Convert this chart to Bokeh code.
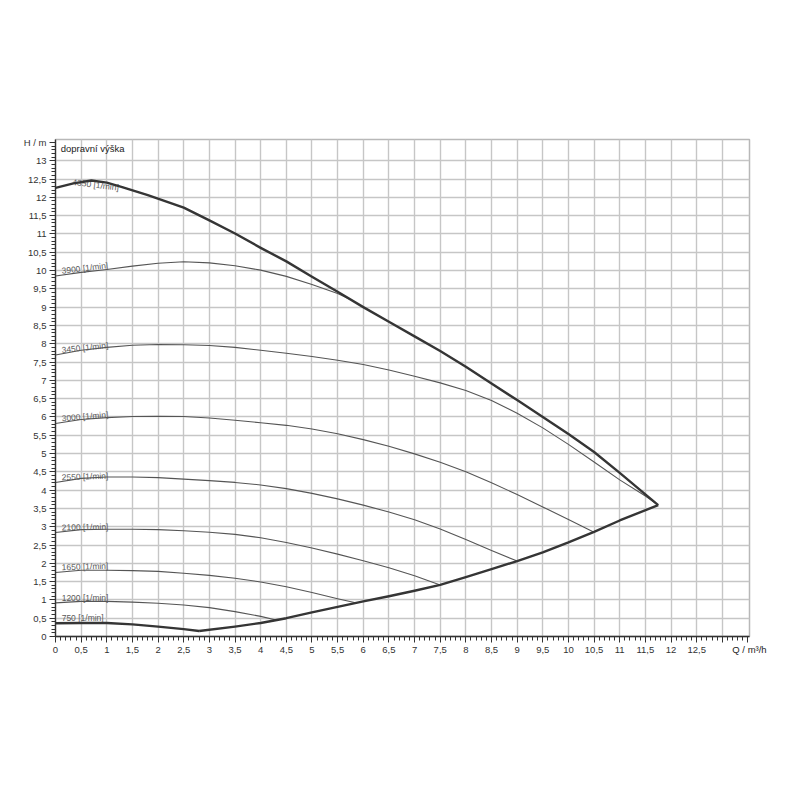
import math
from bokeh.plotting import figure
from bokeh.models import (Range1d, SingleIntervalTicker, FixedTicker, CustomJSTickFormatter,
                          Label, ColumnDataSource)
from bokeh.core.properties import value
from bokeh.embed import file_html
from bokeh.resources import INLINE

# ---- data ----
q_4350 = [0, 0.35, 0.7, 1.0, 1.3, 1.8, 2.5, 3.0, 3.5, 4.0, 4.5, 5.0, 5.5, 6.0, 6.5, 7.0, 7.5, 8.0,
          8.5, 9.0, 9.5, 10.0, 10.5, 11.0, 11.75]
h_4350 = [12.26, 12.38, 12.46, 12.4, 12.28, 12.06, 11.72, 11.37, 11.01, 10.62, 10.25, 9.83, 9.42,
          9.0, 8.6, 8.2, 7.8, 7.37, 6.91, 6.46, 6.0, 5.53, 5.04, 4.47, 3.59]

q_3900 = [0, 0.5, 1.0, 1.5, 2.0, 2.5, 3.0, 3.5, 4.0, 4.5, 5.0, 5.5, 5.76]
h_3900 = [9.85, 9.95, 10.03, 10.12, 10.2, 10.24, 10.21, 10.13, 10.01, 9.84, 9.62, 9.37, 9.2]

q_3450 = [0, 0.5, 1.0, 1.5, 2.0, 2.5, 3.0, 3.5, 4.0, 4.5, 5.0, 5.5, 6.0, 6.5, 7.0, 7.5, 8.0, 8.5,
          9.0, 9.5, 10.0, 10.5, 11.0, 11.5, 11.75]
h_3450 = [7.69, 7.82, 7.9, 7.96, 7.98, 7.97, 7.95, 7.9, 7.82, 7.74, 7.65, 7.55, 7.43, 7.28, 7.11,
          6.93, 6.72, 6.45, 6.1, 5.7, 5.25, 4.77, 4.28, 3.84, 3.59]

q_3000 = [0, 0.5, 1.0, 1.5, 2.0, 2.5, 3.0, 3.5, 4.0, 4.5, 5.0, 5.5, 6.0, 6.5, 7.0, 7.5, 8.0, 8.5,
          9.0, 9.5, 10.0, 10.48]
h_3000 = [5.82, 5.93, 5.98, 6.01, 6.02, 6.01, 5.97, 5.91, 5.84, 5.77, 5.67, 5.54, 5.38, 5.2, 4.99,
          4.76, 4.5, 4.2, 3.88, 3.54, 3.2, 2.86]

q_2550 = [0, 0.5, 1.0, 1.5, 2.0, 2.5, 3.0, 3.5, 4.0, 4.5, 5.0, 5.5, 6.0, 6.5, 7.0, 7.5, 8.0, 8.5, 9.0]
h_2550 = [4.21, 4.32, 4.36, 4.36, 4.34, 4.3, 4.26, 4.21, 4.14, 4.04, 3.91, 3.76, 3.59, 3.4, 3.19,
          2.94, 2.65, 2.35, 2.06]

q_2100 = [0, 0.5, 1.0, 1.5, 2.0, 2.5, 3.0, 3.5, 4.0, 4.5, 5.0, 5.5, 6.0, 6.5, 7.0, 7.5]
h_2100 = [2.84, 2.92, 2.93, 2.93, 2.92, 2.89, 2.85, 2.79, 2.7, 2.57, 2.42, 2.25, 2.07, 1.88, 1.66, 1.41]

q_1650 = [0, 0.5, 1.0, 1.5, 2.0, 2.5, 3.0, 3.5, 4.0, 4.5, 5.0, 5.5, 5.85]
h_1650 = [1.75, 1.81, 1.81, 1.8, 1.78, 1.73, 1.67, 1.59, 1.49, 1.36, 1.2, 1.03, 0.92]

q_1200 = [0, 0.5, 1.0, 1.5, 2.0, 2.5, 3.0, 3.5, 4.0, 4.3]
h_1200 = [0.92, 0.96, 0.96, 0.94, 0.91, 0.86, 0.79, 0.68, 0.55, 0.45]

q_750 = [0, 0.5, 1.0, 1.5, 2.0, 2.5, 2.8]
h_750 = [0.36, 0.37, 0.37, 0.33, 0.27, 0.2, 0.15]

q_limit = [2.8, 3.5, 4.0, 4.5, 5.0, 5.5, 6.0, 6.5, 7.0, 7.5, 8.0, 8.5, 9.0, 9.5, 10.0, 10.5, 11.0, 11.75]
h_limit = [0.15, 0.27, 0.37, 0.5, 0.66, 0.81, 0.96, 1.1, 1.25, 1.41, 1.62, 1.84, 2.06, 2.3, 2.57,
           2.86, 3.17, 3.59]

speed_labels = ["4350 [1/min]", "3900 [1/min]", "3450 [1/min]", "3000 [1/min]", "2550 [1/min]",
                "2100 [1/min]", "1650 [1/min]", "1200 [1/min]", "750 [1/min]"]

x_title = "Q / m³/h"
y_title = "H / m"
inner_title = "dopravní výška"

# ---- figure ----
FONT = value("Liberation Sans")
p = figure(width=786, height=736, x_range=Range1d(0, 13.53), y_range=Range1d(0, 13.58),
           output_backend="svg", toolbar_location=None,
           min_border_left=55, min_border_right=37, min_border_top=139, min_border_bottom=100)
p.background_fill_color = "white"
p.border_fill_color = "white"
p.outline_line_color = "#b8b8b8"
p.outline_line_width = 1.5

x_fmt = ("if (tick > 12.75) { return ''; } "
         "return String(Math.round(tick*10)/10).replace('.', ',');")
y_fmt = ("if (tick > 13.25) { return '%s'; } "
         "return String(Math.round(tick*10)/10).replace('.', ',');" % y_title)

for ax, code in ((p.xaxis[0], x_fmt), (p.yaxis[0], y_fmt)):
    ax.ticker = SingleIntervalTicker(interval=0.5, num_minor_ticks=5)
    ax.formatter = CustomJSTickFormatter(code=code)
    ax.axis_line_color = "#333333"
    ax.axis_line_width = 1.3
    ax.major_tick_line_color = "#333333"
    ax.minor_tick_line_color = "#333333"
    ax.major_tick_in = 0
    ax.major_tick_out = 6
    ax.minor_tick_in = 0
    ax.minor_tick_out = 4
    ax.major_label_text_font = "Liberation Sans"
    ax.major_label_text_font_size = "9.5px"
    ax.major_label_text_color = "#333333"
p.yaxis.major_label_standoff = 3
p.xaxis.major_label_standoff = 4

p.xaxis.axis_label = x_title
p.xaxis.axis_label_align = "end"
p.xaxis.axis_label_standoff = -12
p.xaxis.axis_label_text_font = "Liberation Sans"
p.xaxis.axis_label_text_font_style = "normal"
p.xaxis.axis_label_text_font_size = "9.5px"
p.xaxis.axis_label_text_color = "#222222"

grid_ticks = [i * 0.5 for i in range(27)]
p.xgrid.ticker = FixedTicker(ticks=grid_ticks)
p.ygrid.ticker = FixedTicker(ticks=grid_ticks)
p.xgrid.grid_line_color = "#c6c6c6"
p.ygrid.grid_line_color = "#c6c6c6"
p.xgrid.grid_line_width = 1.4
p.ygrid.grid_line_width = 1.4

# thin speed curves
thin = [(q_3900, h_3900), (q_3450, h_3450), (q_3000, h_3000), (q_2550, h_2550),
        (q_2100, h_2100), (q_1650, h_1650), (q_1200, h_1200)]
for qq, hh in thin:
    p.line(qq, hh, line_color="#555555", line_width=1.1, line_join="round")

# curve labels
starts = [h_4350[0], h_3900[0], h_3450[0], h_3000[0], h_2550[0], h_2100[0], h_1650[0], h_1200[0], h_750[0]]
angles_deg = [-7, 7, 6, 5, 2, 1, 2, 0, 0]
lx = [0.33] + [0.12] * 8
ly = [starts[0] + 0.16] + [s + 0.14 for s in starts[1:]]
src = ColumnDataSource(dict(x=lx, y=ly, text=speed_labels,
                            angle=[math.radians(a) for a in angles_deg]))
p.text(x="x", y="y", text="text", angle="angle", source=src, text_font=FONT,
       text_font_size="8.5px", text_color="#5a5a5a", text_baseline="alphabetic", text_align="left")

# thick envelope curves
for qq, hh in ((q_4350, h_4350), (q_750, h_750), (q_limit, h_limit)):
    p.line(qq, hh, line_color="#353535", line_width=2.4, line_join="round")

p.add_layout(Label(x=0.1, y=13.34, text=inner_title, text_font="Liberation Sans",
                   text_font_size="9.5px", text_color="#222222", text_baseline="middle"))

open("out.html", "w").write(file_html(p, INLINE))
